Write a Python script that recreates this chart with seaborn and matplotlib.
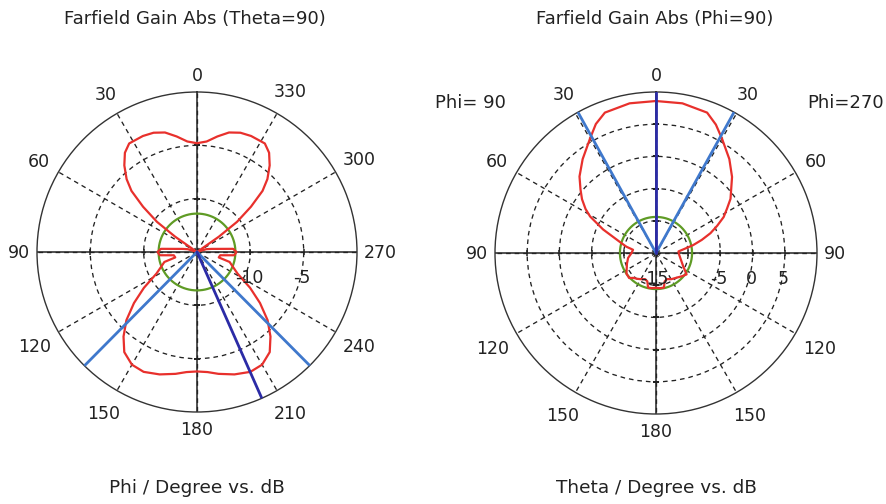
import numpy as np
import matplotlib
matplotlib.use("Agg")
import matplotlib.pyplot as plt
import seaborn as sns

# ==============================
# Data
# ==============================

# Left cut: Theta=90, angle = Phi (deg), gain in dB
phi_deg = [0, 5, 10, 15, 20, 25, 32, 36, 40, 44, 47, 50, 53, 55, 58, 70,
           73, 78, 82, 85, 90, 95, 98, 104, 107, 112, 118, 124, 129, 134,
           139, 144, 150, 156, 163, 170, 175, 180, 185, 190, 197, 204, 210,
           216, 221, 226, 231, 236, 242, 248, 253, 256, 262, 265, 270, 275,
           278, 282, 287, 290, 302, 305, 307, 310, 313, 316, 320, 324, 328,
           335, 340, 345, 350, 355, 360]
gain_phi = [-4.8, -4.6, -4.0, -3.4, -3.1, -3.0, -3.0, -3.5, -4.4, -5.5,
            -6.6, -8.4, -10.3, -12.5, -15.0, -15.0, -14.1, -13.6, -12.9,
            -11.6, -11.3, -11.5, -12.8, -12.9, -11.8, -11.4, -10.7, -9.0,
            -7.4, -5.8, -4.5, -3.4, -2.8, -2.7, -3.0, -3.4, -3.7, -3.8,
            -3.7, -3.4, -3.0, -2.7, -2.8, -3.4, -4.5, -5.8, -7.4, -9.0,
            -10.7, -11.4, -11.8, -12.9, -12.8, -11.5, -11.3, -11.6, -12.9,
            -13.6, -14.1, -15.0, -15.0, -12.5, -10.3, -8.4, -6.6, -5.5,
            -4.4, -3.5, -3.0, -3.0, -3.1, -3.4, -4.0, -4.6, -4.8]
phi_level = -11.4
phi_beam_edges = [135.3, 224.8]
phi_main_dir = 203.9
phi_labels = ["0", "30", "60", "90", "120", "150", "180", "210", "240",
              "270", "300", "330"]
phi_rings = [-10, -5]
phi_ring_labels = ["-10", "-5"]

# Right cut: Phi=90 (left half) / Phi=270 (right half), angle = Theta
theta_deg = [0, 10, 20, 25, 30, 38, 45, 50, 54, 58, 61, 66, 71, 74, 78, 82,
             90, 100, 110, 115, 125, 133, 138, 143, 150, 157, 163, 167, 173,
             180, 187, 193, 197, 203, 210, 220, 228, 235, 244, 255, 266, 274,
             279, 282, 286, 290, 294, 298, 302, 306, 315, 322, 330, 335, 340,
             350, 360]
gain_theta = [8.6, 8.6, 8.2, 7.1, 5.5, 3.5, 1.8, 0.3, -0.8, -2.1, -3.3,
              -6.0, -8.5, -9.4, -10.3, -11.4, -11.2, -10.6, -10.2, -10.0,
              -9.4, -9.3, -9.8, -10.0, -10.3, -10.6, -10.4, -9.5, -9.5, -9.6,
              -9.5, -9.5, -10.4, -10.6, -10.3, -10.0, -9.6, -9.2, -10.3,
              -11.0, -11.4, -11.5, -10.3, -9.1, -7.6, -6.0, -4.6, -3.1, -2.0,
              -0.7, 1.7, 3.5, 5.5, 7.0, 8.2, 8.6, 8.6]
theta_level = -9.4
theta_beam_edges = [29.0, 331.0]
theta_main_dir = 0.0
theta_labels = ["0", "30", "60", "90", "120", "150", "180", "150", "120",
                "90", "60", "30"]
theta_rings = [-15, -10, -5, 0, 5]
theta_ring_labels = ["-15", "", "-5", "0", "5"]

RED = "#e8302c"
GREEN = "#5f9b25"
LIGHT_BLUE = "#3f78cc"
DARK_BLUE = "#2b2ba6"
INK = "#222222"

# ==============================
# Figure
# ==============================
sns.set_theme(style="white")
plt.rcParams["font.family"] = ["DejaVu Sans"]

fig = plt.figure(figsize=(8.86, 5.04), dpi=100)


def draw_cut(rect, angles, gains, rmin, rmax, rings, ring_labels,
             angle_labels, level, edges, main_dir):
    ax = fig.add_axes(rect, projection="polar")
    ax.set_theta_zero_location("N")
    ax.set_theta_direction(1)
    ax.set_facecolor("white")

    ax.set_ylim(rmin, rmax)
    grid_rings = [r for r in rings if r > rmin]
    ax.set_yticks(grid_rings)
    ax.set_yticklabels([])
    spokes = np.arange(0, 360, 30)
    ax.set_xticks(np.radians(spokes))
    ax.set_xticklabels([])
    ax.grid(True, color=INK, linestyle=(0, (3.5, 3)), linewidth=0.95)
    ax.spines["polar"].set_color("#333333")
    ax.spines["polar"].set_linewidth(1.0)

    # solid main axes with small ticks at the rings
    for a in [0, 90, 180, 270]:
        ax.plot(np.radians([a, a]), [rmin, rmax], color=INK,
                linewidth=1.1, zorder=2)
        ax.plot(np.radians([a] * len(grid_rings)), grid_rings,
                linestyle="none", marker="|" if a % 180 else "_",
                markersize=5, markeredgewidth=1.1, color=INK, zorder=2)

    # reference level circle
    circ = np.radians(np.arange(0, 361, 2))
    sns.lineplot(x=circ, y=np.full(circ.shape, level), ax=ax, sort=False,
                 estimator=None, color=GREEN, linewidth=1.6, zorder=3)

    # pattern
    sns.lineplot(x=np.radians(angles), y=gains, ax=ax, sort=False,
                 estimator=None, color=RED, linewidth=1.6, zorder=4)

    # beam markers
    for a in edges:
        ax.plot(np.radians([a, a]), [rmin, rmax], color=LIGHT_BLUE,
                linewidth=2.0, zorder=5)
    ax.plot(np.radians([main_dir, main_dir]), [rmin, rmax], color=DARK_BLUE,
            linewidth=2.0, zorder=6)

    ax.set_xlabel("")
    ax.set_ylabel("")

    # angle labels around the rim
    for a, lab in zip(spokes, angle_labels):
        t = np.radians(a)
        w, h = 10.8 * len(lab), 13.0
        pad = 10.5 - 3.5 * np.sin(t) ** 2 + 3.0 * abs(np.sin(2 * t))
        dist = pad + 0.5 * abs(w * np.sin(t)) + 0.5 * abs(h * np.cos(t))
        ax.annotate(lab, xy=(t, rmax),
                    xytext=(-np.sin(t) * dist * 0.72,
                            np.cos(t) * dist * 0.72 - 1),
                    textcoords="offset points", ha="center", va="center",
                    fontsize=12.5, color=INK, annotation_clip=False)

    # ring labels below the horizontal axis
    for r, lab in zip(rings, ring_labels):
        if lab:
            ax.annotate(lab, xy=(np.radians(270), r), xytext=(-1, -19),
                        textcoords="offset points", ha="center", va="center",
                        fontsize=12.5, color=INK, zorder=7)
    return ax


draw_cut([37 / 886, 92 / 504, 320 / 886, 320 / 504], phi_deg, gain_phi,
         -15, 0, phi_rings, phi_ring_labels, phi_labels, phi_level,
         phi_beam_edges, phi_main_dir)

draw_cut([495 / 886, 90 / 504, 322 / 886, 322 / 504], theta_deg, gain_theta,
         -15, 10, theta_rings, theta_ring_labels, theta_labels, theta_level,
         theta_beam_edges, theta_main_dir)

# titles and axis captions
fig.text(195 / 886, 1 - 19 / 504, "Farfield Gain Abs (Theta=90)",
         ha="center", va="center", fontsize=13, color=INK)
fig.text(655 / 886, 1 - 19 / 504, "Farfield Gain Abs (Phi=90)",
         ha="center", va="center", fontsize=13, color=INK)
fig.text(197 / 886, 1 - 488 / 504, "Phi / Degree vs. dB",
         ha="center", va="center", fontsize=13.3, color=INK)
fig.text(656 / 886, 1 - 488 / 504, "Theta / Degree vs. dB",
         ha="center", va="center", fontsize=13.3, color=INK)
fig.text(470 / 886, 1 - 103 / 504, "Phi= 90",
         ha="center", va="center", fontsize=13, color=INK)
fig.text(807 / 886, 1 - 103 / 504, "Phi=270",
         ha="left", va="center", fontsize=13, color=INK)

fig.savefig("out.png", dpi=100, facecolor="white")
